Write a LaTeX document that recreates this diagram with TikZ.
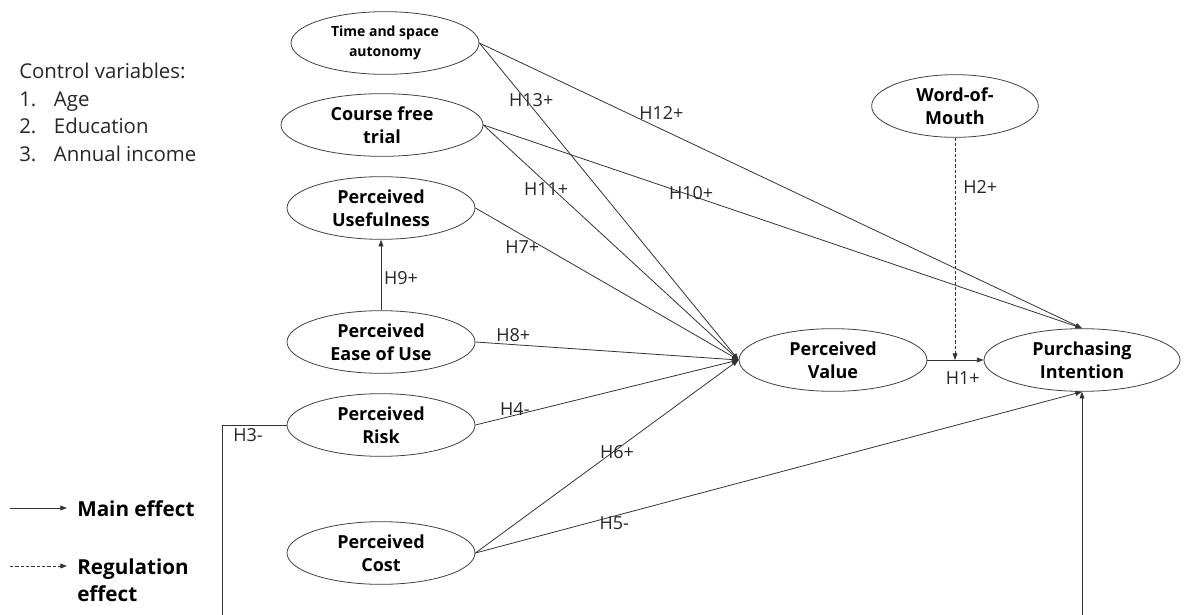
\documentclass[tikz,border=0pt]{standalone}
\usepackage{fontspec}
\setmainfont{Open Sans}
\usetikzlibrary{shapes.geometric,arrows.meta,positioning}

\begin{document}
\begin{tikzpicture}[
        x = 0.75pt, y = -0.75pt,
        construct/.style = {ellipse, draw=black!75, line width=0.6pt, align=center,
            inner sep=0pt, minimum width=141pt, minimum height=47pt,
            font=\bfseries\fontsize{13.5}{17.5}\selectfont},
        conn/.style = {draw=black!80, line width=0.6pt, -{Triangle[length=5pt,width=3.6pt]}},
        regul/.style = {conn, dash pattern=on 2.5pt off 1.5pt},
        hyp/.style = {font=\fontsize{13.5}{15}\selectfont, text=black!85, inner sep=1pt},
        keytext/.style = {font=\bfseries\fontsize{15.5}{20}\selectfont, align=left, inner sep=0pt}]
        \useasboundingbox (0,0) rectangle (1184,614);
        % NODES
        % control variables
        \node[anchor=west, align=left, inner sep=0pt, text=black!85,
            font=\fontsize{15.3}{20.8}\selectfont] (ctrl) at (19,112.5)
            {Control variables:\\\makebox[26pt][l]{1.}Age\\\makebox[26pt][l]{2.}Education\\\makebox[26pt][l]{3.}Annual income};
        % antecedents
        \node[construct, font=\bfseries\fontsize{10.5}{14.5}\selectfont] (TSA) at (385,43) {Time and space\\autonomy};
        \node[construct, minimum width=151.5pt] (CFT) at (382,125) {Course free\\trial};
        \node[construct] (PU) at (381,208) {Perceived\\Usefulness};
        \node[construct] (PEU) at (381,342) {Perceived\\Ease of Use};
        \node[construct] (PR) at (381,425) {Perceived\\Risk};
        \node[construct] (PC) at (381,553) {Perceived\\Cost};
        % mediator and outcome
        \node[construct] (PV) at (833,360) {Perceived\\Value};
        \node[construct, minimum width=147pt] (PI) at (1082,360) {Purchasing\\Intention};
        % moderator
        \node[construct, minimum width=125pt] (WOM) at (955,106) {Word-of-\\Mouth};
        % legend
        \coordinate (keyMainA) at (10,508);
        \coordinate (keyMainB) at (67,508);
        \node[keytext, anchor=west] (keyMain) at (77,509) {Main effect};
        \coordinate (keyRegA) at (10,566);
        \coordinate (keyRegB) at (67,566);
        \node[keytext, anchor=west] (keyReg) at (77,580) {Regulation\\effect};

        % ARROWS
        \draw[conn] (TSA.east) -- node[hyp, pos=0.2, yshift=4.5pt] {H13+} (PV.west);
        \draw[conn] (TSA.east) -- node[hyp, pos=0.302, yshift=12pt] {H12+} (PI.north);
        \draw[conn] (CFT.east) -- node[hyp, pos=0.246, yshift=-5pt] {H11+} (PV.west);
        \draw[conn] (CFT.east) -- node[hyp, pos=0.347, yshift=1.5pt] {H10+} (PI.north);
        \draw[conn] (PU.east) -- node[hyp, pos=0.178, yshift=-9pt] {H7+} (PV.west);
        \draw[conn] (PEU.north) -- node[hyp, pos=0.45, xshift=15pt] {H9+} (PU.south);
        \draw[conn] (PEU.east) -- node[hyp, pos=0.144, yshift=7pt] {H8+} (PV.west);
        \draw[conn] (PR.east) -- node[hyp, pos=0.15, yshift=5pt] {H4-} (PV.west);
        \draw[conn] (PC.east) -- node[hyp, pos=0.538, yshift=-2pt] {H6+} (PV.west);
        \draw[conn] (PC.east) -- node[hyp, pos=0.229, yshift=-5pt] {H5-} (PI.south);
        \draw[conn] (PV.east) -- node[hyp, pos=0.63, yshift=-13.5pt] {H1+} (PI.west);
        \draw[regul] (WOM.south) -- node[hyp, pos=0.22, xshift=19pt] {H2+} (WOM.south |- PV.east);
        \draw[conn] (PR.west) -- ++(-64,0) node[hyp, xshift=19pt, yshift=-7.5pt] {H3-}
            -- ++(0,230) -| (PI.south);
        % legend arrows
        \draw[conn] (keyMainA) -- (keyMainB);
        \draw[regul] (keyRegA) -- (keyRegB);
    \end{tikzpicture}
\end{document}
